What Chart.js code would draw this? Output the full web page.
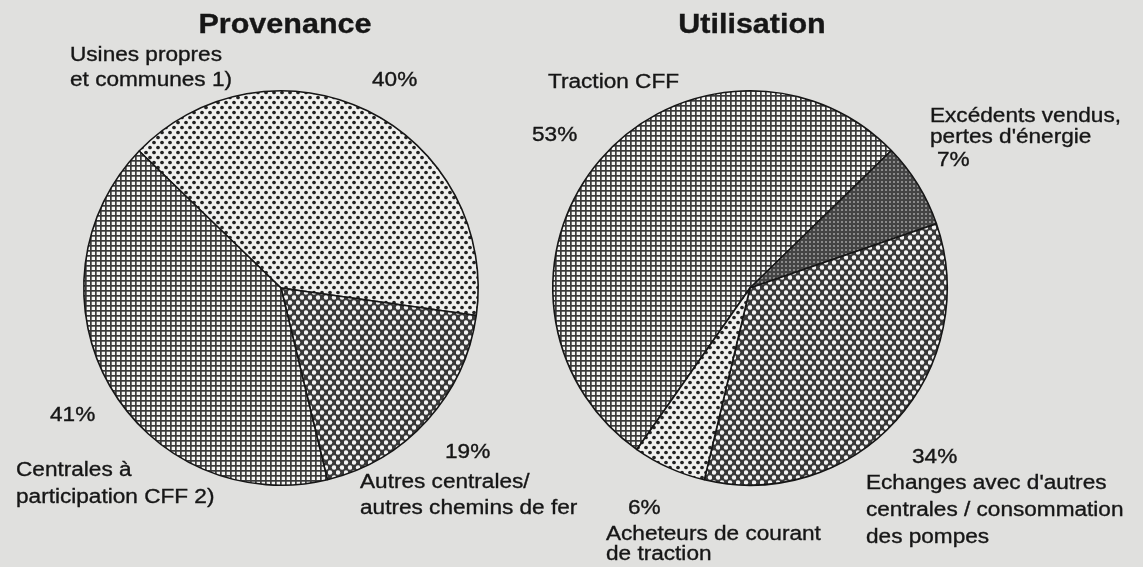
<!DOCTYPE html>
<html>
<head>
<meta charset="utf-8">
<script src="https://cdn.jsdelivr.net/npm/chart.js@4.4.1/dist/chart.umd.min.js"></script>
<style>
  html, body { margin: 0; padding: 0; background: #e0e0de; }
  #wrap { position: relative; width: 1143px; height: 567px; overflow: hidden; }
  #wrap canvas { position: absolute; left: 0; top: 0; }
</style>
</head>
<body>
<div id="wrap">
  <canvas id="provChart" width="1143" height="567"></canvas>
  <canvas id="utilChart" width="1143" height="567"></canvas>
</div>
<script>
// --- data ---
const provTitle = 'Provenance';
const provCategories = ['Usines propres et communes 1)', 'Autres centrales/autres chemins de fer', 'Centrales à participation CFF 2)'];
const provValues = [40, 19, 41];

const utilTitle = 'Utilisation';
const utilCategories = ['Traction CFF', "Excédents vendus, pertes d'énergie", "Echanges avec d'autres centrales / consommation des pompes", 'Acheteurs de courant de traction'];
const utilValues = [53, 7, 34, 6];

const W = 1143, H = 567;
const INK = '#161616';

// hatch patterns like the printed screens
function makePattern(w, h, draw) {
  const c = document.createElement('canvas');
  c.width = w; c.height = h;
  const g = c.getContext('2d');
  draw(g);
  return g.createPattern(c, 'repeat');
}
function dot(g, x, y, r) { g.beginPath(); g.arc(x, y, r, 0, Math.PI * 2); g.fill(); }

const patLightDots = makePattern(8, 10, g => {
  g.fillStyle = '#f0f0ee'; g.fillRect(0, 0, 8, 10);
  g.fillStyle = '#222';
  dot(g, 2, 2.5, 1.85); dot(g, 6, 7.5, 1.85);
});
const patFineGrid = makePattern(5, 5, g => {
  g.fillStyle = '#f4f4f2'; g.fillRect(0, 0, 5, 5);
  g.fillStyle = '#3a3a3a';
  g.fillRect(0, 0, 5, 1.7); g.fillRect(0, 0, 1.7, 5);
});
const patWhiteDots = makePattern(8, 10, g => {
  g.fillStyle = '#383838'; g.fillRect(0, 0, 8, 10);
  g.fillStyle = '#f4f4f4';
  dot(g, 2, 2.5, 2.2); dot(g, 6, 7.5, 2.2); dot(g, 6, -2.5, 2.2); dot(g, 6, 12.5, 2.2);
});
const patDarkGrid = makePattern(4, 4, g => {
  g.fillStyle = '#444'; g.fillRect(0, 0, 4, 4);
  g.fillStyle = '#8a8a8a'; g.fillRect(1, 1, 2, 2);
});

// draws the title and the slice captions around the pie
const captionPlugin = {
  id: 'captions',
  afterDraw(chart, args, opts) {
    const arc = chart.getDatasetMeta(0).data[0];
    if (!arc) return;
    const cx = arc.x, cy = arc.y;
    const ctx = chart.ctx;
    ctx.save();
    ctx.fillStyle = INK;
    ctx.strokeStyle = INK;
    ctx.lineWidth = 0.35;
    ctx.textBaseline = 'alphabetic';
    const put = (text, x, y, font, align) => {
      ctx.save();
      ctx.font = font;
      ctx.textAlign = align || 'left';
      ctx.translate(x, y);
      ctx.scale(1.13, 1);
      ctx.fillText(text, 0, 0);
      ctx.strokeText(text, 0, 0);
      ctx.restore();
    };
    put(opts.title, cx + opts.titleDx, cy + opts.titleDy, 'bold 27px "Liberation Sans", Arial, sans-serif', 'center');
    opts.items.forEach(it => {
      it.lines.forEach((ln, i) => {
        put(ln, cx + it.dx, cy + it.dy + i * (it.lh || 26), '20px "Liberation Sans", Arial, sans-serif');
      });
    });
    ctx.restore();
  }
};

function pieConfig(values, categories, colors, rotation, area, captions) {
  return {
    type: 'pie',
    data: {
      labels: categories,
      datasets: [{
        data: values,
        backgroundColor: colors,
        borderColor: INK,
        borderWidth: 1.6
      }]
    },
    options: {
      responsive: false,
      animation: false,
      rotation: rotation,
      layout: { padding: { left: area[0], top: area[1], right: W - area[2], bottom: H - area[3] } },
      plugins: {
        legend: { display: false },
        tooltip: { enabled: false },
        captions: captions
      }
    },
    plugins: [captionPlugin]
  };
}

new Chart(document.getElementById('provChart'), pieConfig(
  provValues, provCategories,
  [patLightDots, patWhiteDots, patFineGrid],
  -46,
  [83, 90, 479, 486],
  {
    title: provTitle, titleDx: 4, titleDy: -255,
    items: [
      { lines: ['Usines propres', 'et communes 1)'], dx: -211, dy: -227, lh: 25 },
      { lines: ['40%'], dx: 91, dy: -202 },
      { lines: ['41%'], dx: -231, dy: 133 },
      { lines: ['Centrales à', 'participation CFF 2)'], dx: -265, dy: 188, lh: 27 },
      { lines: ['19%'], dx: 164, dy: 170 },
      { lines: ['Autres centrales/', 'autres chemins de fer'], dx: 79, dy: 200, lh: 26 }
    ]
  }
));

new Chart(document.getElementById('utilChart'), pieConfig(
  utilValues, utilCategories,
  [patFineGrid, patDarkGrid, patWhiteDots, patLightDots],
  -145,
  [552, 90, 948, 486],
  {
    title: utilTitle, titleDx: 2, titleDy: -255,
    items: [
      { lines: ['Traction CFF'], dx: -202, dy: -200 },
      { lines: ['53%'], dx: -218, dy: -147 },
      { lines: ['Excédents vendus,', "pertes d'énergie"], dx: 180, dy: -166, lh: 21 },
      { lines: ['7%'], dx: 187, dy: -122 },
      { lines: ['34%'], dx: 162, dy: 175 },
      { lines: ["Echanges avec d'autres", 'centrales / consommation', 'des pompes'], dx: 116, dy: 201, lh: 27 },
      { lines: ['6%'], dx: -122, dy: 226 },
      { lines: ['Acheteurs de courant', 'de traction'], dx: -144, dy: 252, lh: 20 }
    ]
  }
));
</script>
</body>
</html>
